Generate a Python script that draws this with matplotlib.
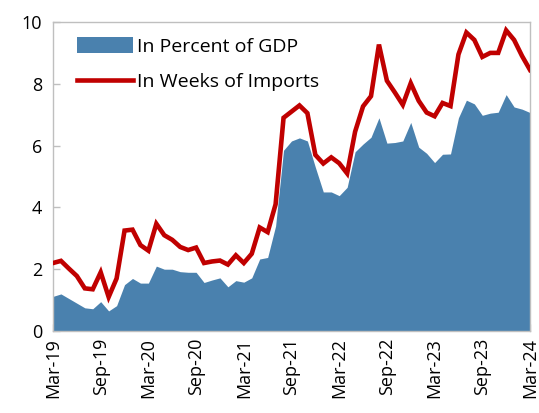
import matplotlib
matplotlib.use("Agg")
import matplotlib.pyplot as plt
import numpy as np

plt.rcParams['font.family'] = ['Open Sans', 'DejaVu Sans']

months = ["Mar-19", "Sep-19", "Mar-20", "Sep-20", "Mar-21", "Sep-21",
          "Mar-22", "Sep-22", "Mar-23", "Sep-23", "Mar-24"]

pct_gdp = [1.12, 1.2, 1.05, 0.9, 0.75, 0.72, 0.95, 0.65, 0.82, 1.5,
           1.7, 1.55, 1.55, 2.1, 2.0, 2.0, 1.92, 1.9, 1.9, 1.57,
           1.65, 1.72, 1.43, 1.63, 1.58, 1.72, 2.33, 2.38, 3.4, 5.85,
           6.15, 6.25, 6.15, 5.3, 4.5, 4.5, 4.38, 4.65, 5.8, 6.05,
           6.27, 6.9, 6.08, 6.1, 6.15, 6.75, 5.95, 5.75, 5.45, 5.72,
           5.73, 6.9, 7.47, 7.35, 6.98, 7.05, 7.08, 7.65, 7.25, 7.18,
           7.07]

weeks_imports = [2.2, 2.27, 2.02, 1.78, 1.38, 1.35, 1.9, 1.1, 1.7, 3.25,
                 3.28, 2.78, 2.6, 3.47, 3.1, 2.95, 2.72, 2.62, 2.7, 2.2,
                 2.25, 2.28, 2.15, 2.45, 2.2, 2.5, 3.35, 3.2, 4.1, 6.9,
                 7.1, 7.3, 7.05, 5.7, 5.42, 5.62, 5.43, 5.1, 6.45, 7.27,
                 7.6, 9.27, 8.1, 7.72, 7.32, 8.02, 7.45, 7.07, 6.95, 7.38,
                 7.28, 8.95, 9.66, 9.42, 8.87, 9.0, 9.0, 9.73, 9.42, 8.9,
                 8.45]

x = np.arange(len(pct_gdp))

fig = plt.figure(figsize=(5.39, 4.13), dpi=100)
ax = fig.add_axes([53/539, 1-331/413, 477/539, 309/413])

blue = "#4A81AE"
red = "#C00000"
ax.fill_between(x, 0, pct_gdp, color=blue, linewidth=0, label="In Percent of GDP", zorder=2)
ax.plot(x, weeks_imports, color=red, linewidth=3.3, label="In Weeks of Imports",
        solid_joinstyle='miter', zorder=3)

ax.set_xlim(0, 60)
ax.set_ylim(0, 10)
ax.set_yticks(range(0, 11, 2))
ax.set_xticks(np.arange(0, 61, 6))
ax.set_xticklabels(months, rotation=90)

gray = "#BFBFBF"
for s in ax.spines.values():
    s.set_color(gray)
    s.set_linewidth(1.0)
ax.tick_params(axis='both', direction='in', color=gray, length=5, width=1,
               labelsize=13, labelcolor='black')
ax.tick_params(axis='x', pad=5)
ax.tick_params(axis='y', pad=8)

leg = ax.legend(loc='upper left', bbox_to_anchor=(0.05, 0.95), frameon=False,
                fontsize=14, handlelength=2.9, handleheight=0.85,
                handletextpad=0.2, labelspacing=0.85, borderpad=0, borderaxespad=0)

fig.savefig("out.png", dpi=100)
